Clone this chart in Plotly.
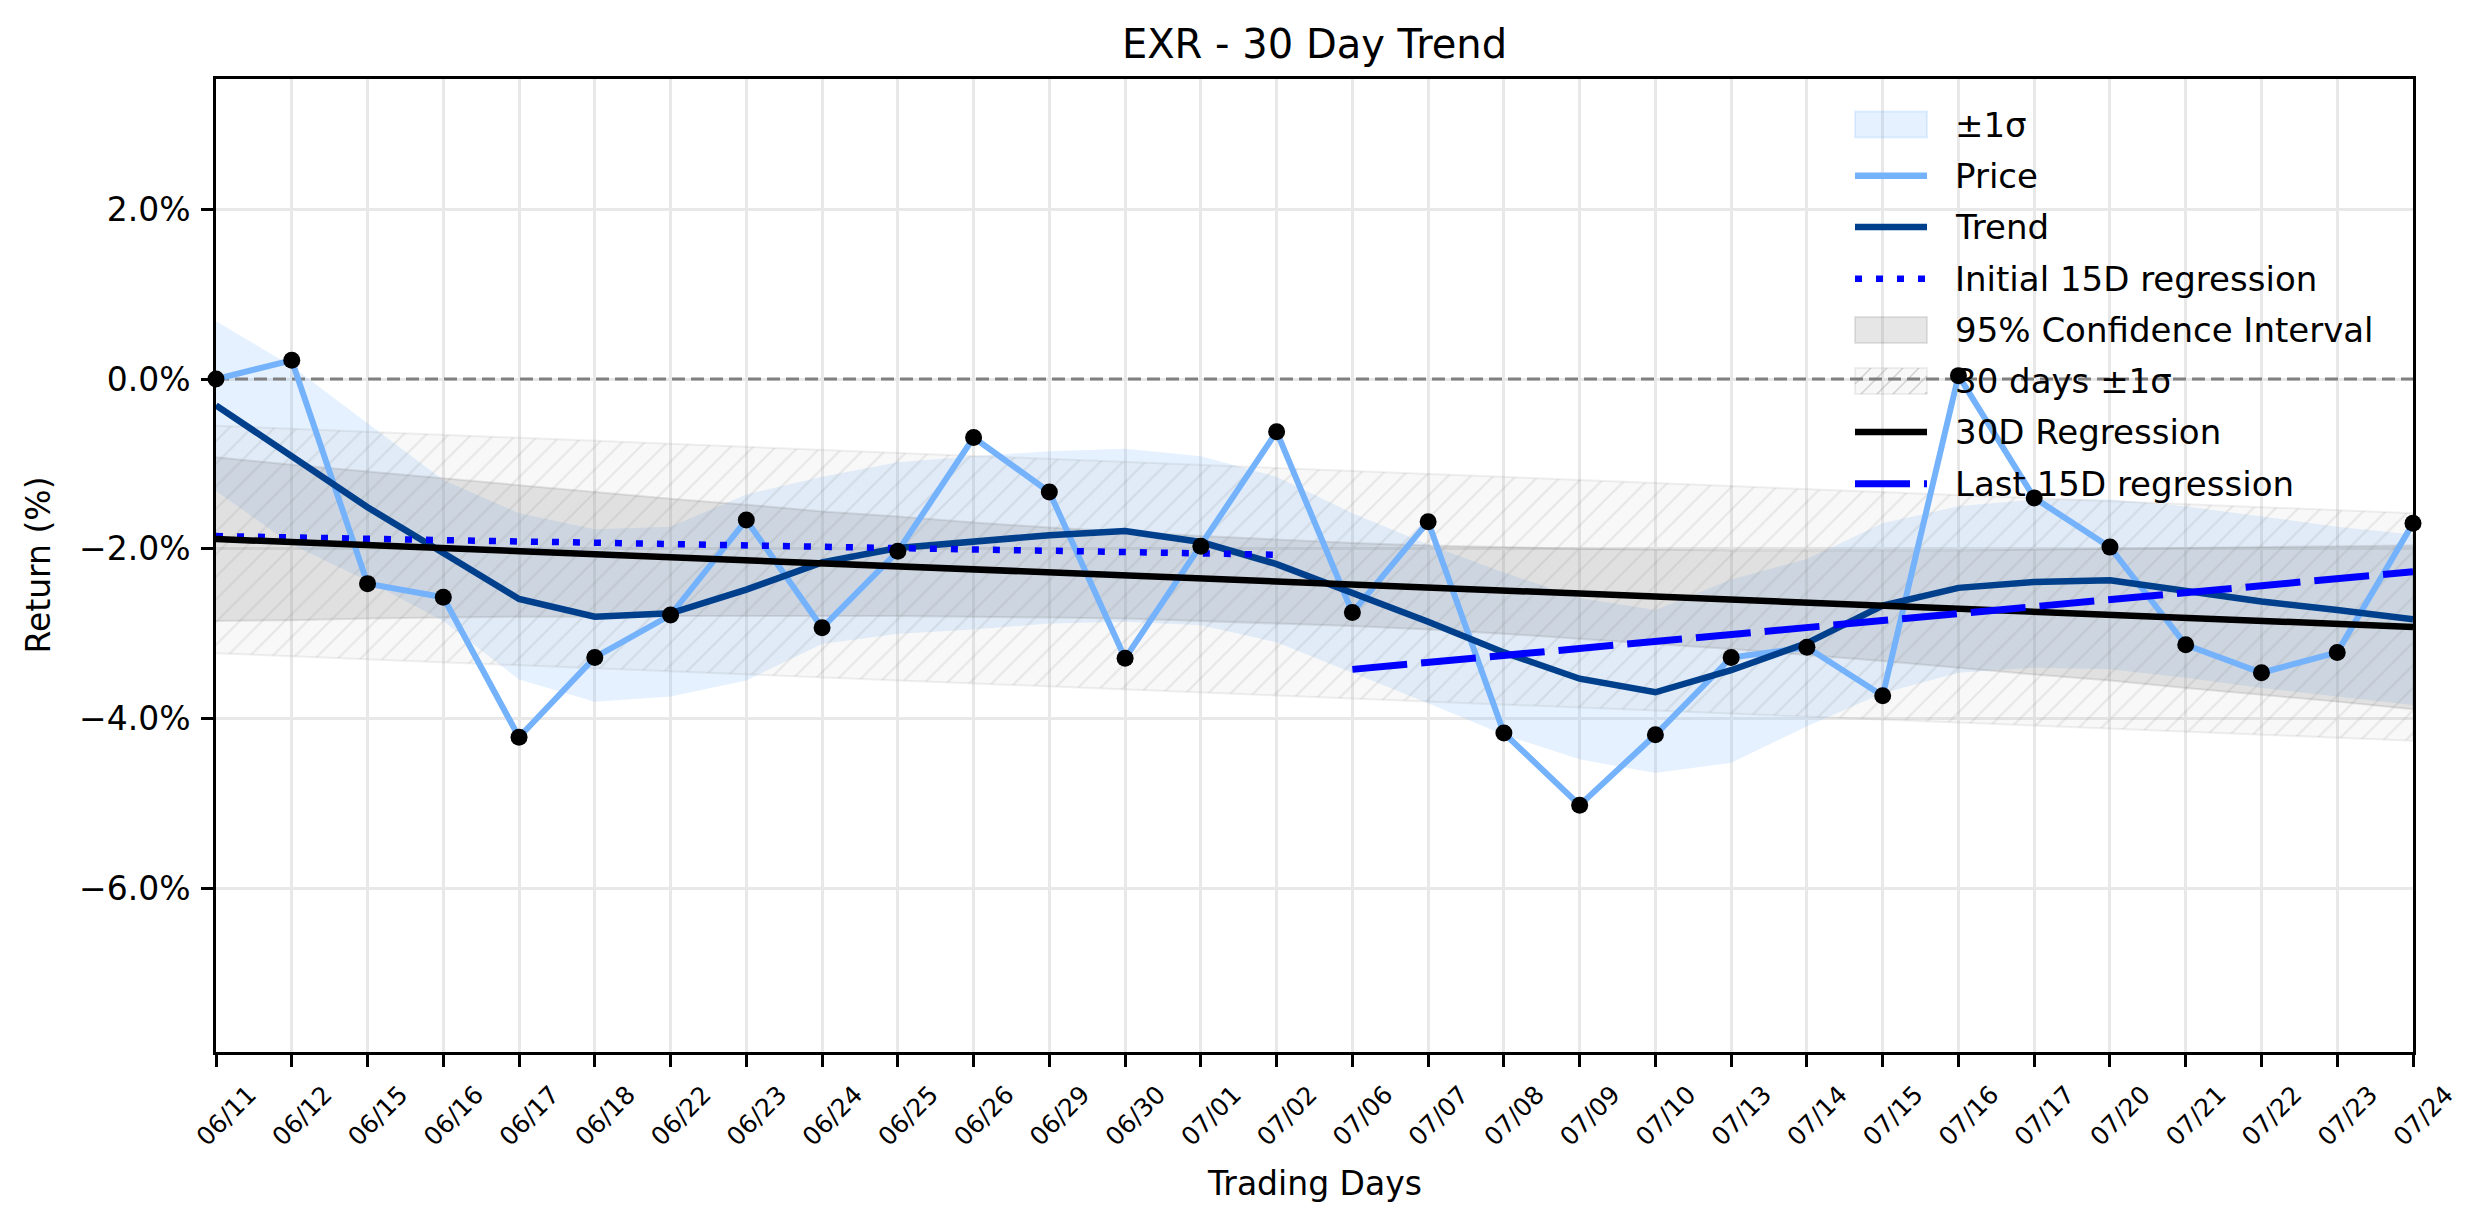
import plotly.graph_objects as go

# ---------------- data ----------------
dates = ["06/11", "06/12", "06/15", "06/16", "06/17", "06/18", "06/22", "06/23", "06/24", "06/25",
         "06/26", "06/29", "06/30", "07/01", "07/02", "07/06", "07/07", "07/08", "07/09", "07/10",
         "07/13", "07/14", "07/15", "07/16", "07/17", "07/20", "07/21", "07/22", "07/23", "07/24"]
days = list(range(len(dates)))

price = [0.0, 0.22, -2.41, -2.57, -4.22, -3.28, -2.78, -1.66, -2.93, -2.03,
         -0.69, -1.33, -3.29, -1.97, -0.62, -2.75, -1.68, -4.17, -5.02, -4.19,
         -3.28, -3.16, -3.73, 0.04, -1.40, -1.98, -3.13, -3.46, -3.22, -1.70]

trend = [-0.31, -0.92, -1.51, -2.05, -2.59, -2.80, -2.76, -2.48, -2.16, -1.99,
         -1.92, -1.84, -1.79, -1.92, -2.18, -2.51, -2.86, -3.22, -3.53, -3.69,
         -3.43, -3.11, -2.67, -2.46, -2.39, -2.37, -2.49, -2.62, -2.72, -2.83]

sigma_upper = [0.68, 0.15, -0.52, -1.19, -1.58, -1.77, -1.74, -1.36, -1.15, -0.98,
               -0.91, -0.85, -0.82, -0.91, -1.15, -1.58, -1.95, -2.28, -2.58, -2.72,
               -2.36, -2.12, -1.70, -1.50, -1.42, -1.42, -1.50, -1.62, -1.74, -1.83]
sigma_lower = [-1.32, -1.95, -2.38, -2.85, -3.54, -3.80, -3.74, -3.55, -3.12, -3.00,
               -2.95, -2.88, -2.86, -2.90, -3.10, -3.46, -3.82, -4.19, -4.48, -4.64,
               -4.52, -4.09, -3.70, -3.46, -3.40, -3.42, -3.52, -3.64, -3.74, -3.84]

ci_upper = [-0.92, -1.01, -1.09, -1.17, -1.25, -1.33, -1.41, -1.48, -1.56, -1.62,
            -1.69, -1.75, -1.80, -1.85, -1.89, -1.93, -1.96, -1.98, -2.00, -2.01,
            -2.02, -2.02, -2.02, -2.02, -2.01, -2.00, -1.99, -1.98, -1.97, -1.96]
ci_lower = [-2.85, -2.84, -2.82, -2.81, -2.80, -2.80, -2.79, -2.79, -2.79, -2.79,
            -2.80, -2.81, -2.82, -2.85, -2.88, -2.91, -2.95, -3.00, -3.06, -3.12,
            -3.18, -3.25, -3.32, -3.40, -3.48, -3.55, -3.64, -3.72, -3.80, -3.89]

band30_x = [0, 29]
band30_upper = [-0.55, -1.58]
band30_lower = [-3.23, -4.26]

reg30_x = [0, 29]
reg30_y = [-1.885, -2.92]
init15_x = [0, 14]
init15_y = [-1.85, -2.07]
last15_x = [15, 29]
last15_y = [-3.42, -2.27]

ytick_vals = [-6, -4, -2, 0, 2]
ytick_text = ["\u22126.0%", "\u22124.0%", "\u22122.0%", "0.0%", "2.0%"]

legend_labels = ["\u00b11\u03c3", "Price", "Trend", "Initial 15D regression",
                 "95% Confidence Interval", "30 days \u00b11\u03c3", "30D Regression",
                 "Last 15D regression"]

# ---------------- styles ----------------
FONT = "DejaVu Sans"
C_SIGMA = "rgba(100,170,250,0.17)"
C_CI = "rgba(128,128,128,0.2)"
C_H_BG = "rgba(128,128,128,0.06)"
C_H_FG = "rgba(120,120,120,0.28)"
C_H_EDGE = "rgba(128,128,128,0.12)"
C_PRICE = "#75B2FC"
C_TREND = "#003F8C"
C_BLUE = "#0000FF"
DOT = "7px,14px"
DASH = "55px,14px"

fig = go.Figure()

fig.add_trace(go.Scatter(
    x=days + days[::-1], y=sigma_upper + sigma_lower[::-1],
    fill="toself", fillcolor=C_SIGMA, line=dict(width=0),
    mode="lines", showlegend=False, hoverinfo="skip"))

fig.add_trace(go.Scatter(
    x=days + days[::-1], y=ci_upper + ci_lower[::-1],
    fill="toself", fillcolor=C_CI, line=dict(width=2, color=C_CI),
    mode="lines", showlegend=False, hoverinfo="skip"))

fig.add_trace(go.Scatter(
    x=band30_x + band30_x[::-1], y=band30_upper + band30_lower[::-1],
    fill="toself", fillcolor=C_H_BG,
    fillpattern=dict(shape="/", fgcolor=C_H_FG, bgcolor=C_H_BG, size=16, solidity=0.13),
    line=dict(width=2, color=C_H_EDGE),
    mode="lines", showlegend=False, hoverinfo="skip"))

fig.add_trace(go.Scatter(
    x=[days[0], days[-1]], y=[0, 0], mode="lines",
    line=dict(color="#808080", width=3.2, dash="13px,6px"), showlegend=False, hoverinfo="skip"))

fig.add_trace(go.Scatter(x=days, y=price, mode="lines", line=dict(color=C_PRICE, width=6),
                         showlegend=False, name="Price"))
fig.add_trace(go.Scatter(x=days, y=trend, mode="lines", line=dict(color=C_TREND, width=6.5),
                         showlegend=False, name="Trend"))
fig.add_trace(go.Scatter(x=init15_x, y=init15_y, mode="lines",
                         line=dict(color=C_BLUE, width=6.5, dash=DOT),
                         showlegend=False, name="Initial 15D regression"))
fig.add_trace(go.Scatter(x=reg30_x, y=reg30_y, mode="lines", line=dict(color="#000000", width=6.5),
                         showlegend=False, name="30D Regression"))
fig.add_trace(go.Scatter(x=last15_x, y=last15_y, mode="lines",
                         line=dict(color=C_BLUE, width=7, dash=DASH),
                         showlegend=False, name="Last 15D regression"))
fig.add_trace(go.Scatter(x=days, y=price, mode="markers", marker=dict(color="black", size=17),
                         showlegend=False, cliponaxis=False))

# ---------------- layout ----------------
W, H = 2474, 1224
L, R, T, B = 216, 61, 79, 172
plot_w = W - L - R
plot_h = H - T - B


def px(xp):
    return (xp - L) / plot_w


def py(yp):
    return 1 - (yp - T) / plot_h


# manual legend (matplotlib style: handles + text, no frame)
shapes = []
annotations = []
row_y = [124.5, 175.7, 227.0, 278.7, 330.0, 381.0, 432.0, 483.7]
sx0, sx1, tx = 1855, 1927, 1953
half_h = 13

kinds = [("patch", C_SIGMA, C_SIGMA), ("line", C_PRICE, None), ("line", C_TREND, None),
         ("dot", C_BLUE, None), ("patch", C_CI, C_CI), ("hatch", C_H_BG, C_H_EDGE),
         ("line", "#000000", None), ("dash", C_BLUE, None)]

for (kind, col, edge), yc, lab in zip(kinds, row_y, legend_labels):
    if kind in ("patch", "hatch"):
        shapes.append(dict(type="rect", xref="paper", yref="paper",
                           x0=px(sx0), x1=px(sx1), y0=py(yc + half_h), y1=py(yc - half_h),
                           fillcolor=col, line=dict(color=edge, width=2), layer="above"))
        if kind == "hatch":
            top, bot = yc - half_h, yc + half_h
            c = sx0 + top
            while c < sx1 + bot:
                xa = max(sx0, c - bot)
                xb = min(sx1, c - top)
                if xb > xa:
                    shapes.append(dict(type="line", xref="paper", yref="paper",
                                       x0=px(xa), y0=py(c - xa), x1=px(xb), y1=py(c - xb),
                                       line=dict(color=C_H_FG, width=1.7), layer="above"))
                c += 16
    else:
        width = {"line": 6.5, "dot": 6.5, "dash": 7}[kind]
        dash = {"line": "solid", "dot": DOT, "dash": DASH}[kind]
        shapes.append(dict(type="line", xref="paper", yref="paper",
                           x0=px(sx0), x1=px(sx1), y0=py(yc), y1=py(yc),
                           line=dict(color=col, width=width, dash=dash), layer="above"))
    annotations.append(dict(text=lab, xref="paper", yref="paper", x=px(tx), y=py(yc),
                            xanchor="left", yanchor="middle", showarrow=False,
                            font=dict(family=FONT, size=34, color="black")))

annotations += [
    dict(text="Trading Days", xref="paper", yref="paper", x=0.5, y=py(1183),
         xanchor="center", yanchor="middle", showarrow=False, font=dict(family=FONT, size=33)),
    dict(text="Return (%)", xref="paper", yref="paper", x=px(38), y=0.5,
         xanchor="center", yanchor="middle", textangle=-90, showarrow=False,
         font=dict(family=FONT, size=33)),
]

fig.update_layout(
    width=W, height=H,
    margin=dict(l=L, r=R, t=T, b=B, autoexpand=False),
    paper_bgcolor="white", plot_bgcolor="white",
    font=dict(family=FONT, color="black", size=33),
    title=dict(text="EXR - 30 Day Trend", font=dict(family=FONT, size=40, color="black"),
               x=(L + (W - R)) / 2 / W, xanchor="center", xref="container",
               y=1 - 44 / H, yanchor="middle", yref="container"),
    showlegend=False,
    xaxis=dict(range=[0, 29], tickmode="array", tickvals=days, ticktext=dates,
               tickangle=-45, tickfont=dict(family=FONT, size=25),
               ticks="outside", ticklen=12, tickwidth=2.5, tickcolor="black",
               ticklabelshift=33, ticklabelstandoff=3,
               showgrid=True, gridcolor="#E8E8E8", gridwidth=2.7,
               showline=True, linecolor="black", linewidth=2.7, mirror=True,
               zeroline=False),
    yaxis=dict(range=[-7.927, 3.534], tickmode="array", tickvals=ytick_vals, ticktext=ytick_text,
               tickfont=dict(family=FONT, size=33),
               ticks="outside", ticklen=12, tickwidth=2.5, tickcolor="black",
               ticklabelstandoff=4,
               showgrid=True, gridcolor="#E8E8E8", gridwidth=2.7,
               showline=True, linecolor="black", linewidth=2.7, mirror=True,
               zeroline=False),
    shapes=shapes,
    annotations=annotations,
)

fig.write_html("out.html")
